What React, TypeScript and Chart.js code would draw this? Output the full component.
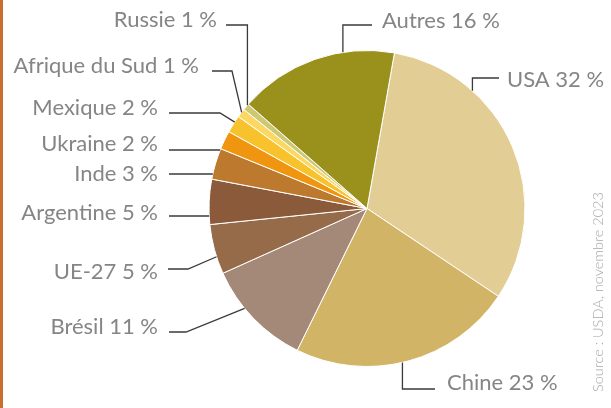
import React, { useEffect, useRef } from "react";
import { Chart, registerables } from "chart.js";

Chart.register(...registerables);

const categories = ["USA", "Chine", "Brésil", "UE-27", "Argentine", "Inde", "Ukraine", "Mexique", "Afrique du Sud", "Russie", "Autres"];
const shares = [31.6, 22.9, 11.0, 5.1, 4.6, 3.2, 1.9, 1.8, 0.9, 0.7, 16.3];
const labelTexts = ["USA 32 %", "Chine 23 %", "Brésil 11 %", "UE-27 5 %", "Argentine 5 %", "Inde 3 %", "Ukraine 2 %", "Mexique 2 %", "Afrique du Sud 1 %", "Russie 1 %", "Autres 16 %"];
const colors = ["#e2ce94", "#d2b466", "#a48878", "#956b4a", "#8a5a3a", "#bd7a2f", "#f0950f", "#f8c22c", "#fcd863", "#cdc873", "#9a911d"];
const sourceText = "Source : USDA, novembre 2023";

// label layout: text anchor, alignment, leader line start, elbow (number = x of elbow, "v" = vertical to arc, "h" = straight), fraction along slice
type Lay = { tx: number; ty: number; align: CanvasTextAlign; sx: number; sy: number; elbow: number | "v" | "h"; frac: number };
const layout: Lay[] = [
  { tx: 507, ty: 80, align: "left", sx: 499, sy: 78, elbow: "v", frac: 0.28 },
  { tx: 447, ty: 383, align: "left", sx: 435, sy: 389, elbow: "v", frac: 0.525 },
  { tx: 158, ty: 327, align: "right", sx: 169, sy: 332, elbow: 186, frac: 0.62 },
  { tx: 158, ty: 272, align: "right", sx: 168, sy: 269, elbow: 188, frac: 0.35 },
  { tx: 158, ty: 213, align: "right", sx: 169, sy: 216, elbow: "h", frac: 0.22 },
  { tx: 158, ty: 174, align: "right", sx: 169, sy: 174, elbow: "h", frac: 0.21 },
  { tx: 158, ty: 144, align: "right", sx: 169, sy: 150, elbow: "h", frac: 0.1 },
  { tx: 158, ty: 108, align: "right", sx: 169, sy: 113, elbow: 220, frac: 0.63 },
  { tx: 199, ty: 66, align: "right", sx: 212, sy: 71, elbow: 232, frac: 0.6 },
  { tx: 217, ty: 20, align: "right", sx: 226, sy: 25, elbow: "v", frac: 0.8 },
  { tx: 382, ty: 21, align: "left", sx: 372, sy: 25, elbow: "v", frac: 0.68 },
];

const labelPlugin = {
  id: "labels",
  afterDraw(chart: any) {
    const ctx = chart.ctx as CanvasRenderingContext2D;
    ctx.save();
    // left stripe
    ctx.fillStyle = "#c8702f";
    ctx.fillRect(0, 0, 3, chart.height);
    const meta = chart.getDatasetMeta(0);
    meta.data.forEach((arc: any, i: number) => {
      const L = layout[i];
      const a = arc.startAngle + (arc.endAngle - arc.startAngle) * L.frac;
      const R = arc.outerRadius;
      let px = arc.x + R * Math.cos(a);
      let py = arc.y + R * Math.sin(a);
      ctx.strokeStyle = "#3a3a3a";
      ctx.lineWidth = 1.3;
      ctx.beginPath();
      ctx.moveTo(L.sx, L.sy);
      if (L.elbow === "v") {
        const dx = px - arc.x;
        const dy = Math.sqrt(Math.max(0, R * R - dx * dx));
        py = arc.y + (L.sy < arc.y ? -dy : dy);
        ctx.lineTo(px, L.sy);
        ctx.lineTo(px, py);
      } else if (L.elbow === "h") {
        const dy = L.sy - arc.y;
        const dx = Math.sqrt(Math.max(0, R * R - dy * dy));
        px = arc.x + (L.sx < arc.x ? -dx : dx);
        ctx.lineTo(px, L.sy);
      } else {
        ctx.lineTo(L.elbow, L.sy);
        ctx.lineTo(px, py);
      }
      ctx.stroke();
      ctx.fillStyle = "#858585";
      ctx.font = "22px Lato";
      ctx.textAlign = L.align;
      ctx.textBaseline = "middle";
      ctx.fillText(labelTexts[i], L.tx, L.ty);
    });
    // source
    ctx.translate(598, 392);
    ctx.rotate(-Math.PI / 2);
    ctx.fillStyle = "#a8a8a8";
    ctx.font = "300 14.5px Lato";
    ctx.textAlign = "left";
    ctx.textBaseline = "middle";
    ctx.fillText(sourceText, 0, 0);
    ctx.restore();
  },
};

export default function App() {
  const ref = useRef<HTMLCanvasElement | null>(null);
  useEffect(() => {
    if (!ref.current) return;
    const chart = new Chart(ref.current, {
      type: "pie",
      data: {
        labels: categories,
        datasets: [
          {
            data: shares,
            backgroundColor: colors,
            borderColor: "#ffffff",
            borderWidth: 1,
          },
        ],
      },
      options: {
        responsive: false,
        animation: false,
        rotation: 10,
        layout: { padding: { left: 208, right: 85, top: 50, bottom: 41 } },
        plugins: { legend: { display: false }, tooltip: { enabled: false } },
      },
      plugins: [labelPlugin],
    });
    return () => chart.destroy();
  }, []);
  return (
    <div style={{ position: "fixed", left: 0, top: 0, width: 611, height: 408, background: "#fff" }}>
      <canvas ref={ref} width={611} height={408} />
    </div>
  );
}
